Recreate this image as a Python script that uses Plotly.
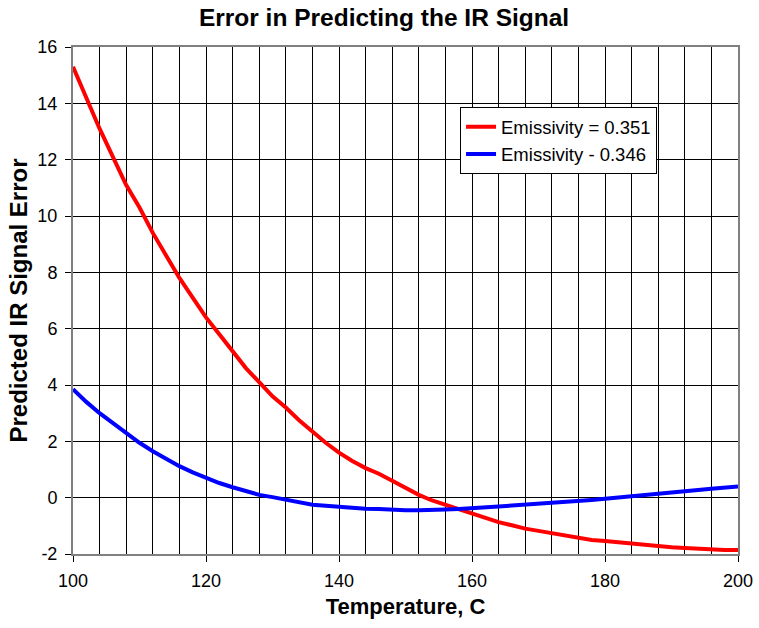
import plotly.graph_objects as go

# Temperature (C)
temperature = [100, 102, 104, 106, 108, 110, 112, 114, 116, 118, 120, 122, 124, 126, 128,
               130, 132, 134, 136, 138, 140, 142, 144, 146, 148, 150, 152, 154, 156, 158,
               160, 162, 164, 166, 168, 170, 172, 174, 176, 178, 180, 182, 184, 186, 188,
               190, 192, 194, 196, 198, 200]

# Predicted IR signal error, emissivity = 0.351
err_351 = [15.3, 14.2, 13.1, 12.1, 11.1, 10.3, 9.4, 8.6, 7.8, 7.1, 6.4, 5.8, 5.2, 4.6, 4.1,
           3.6, 3.2, 2.75, 2.35, 1.95, 1.6, 1.3, 1.05, 0.85, 0.6, 0.35, 0.1, -0.1, -0.25, -0.4,
           -0.57, -0.72, -0.87, -0.98, -1.1, -1.18, -1.26, -1.35, -1.43, -1.5, -1.54, -1.59,
           -1.63, -1.68, -1.72, -1.76, -1.79, -1.82, -1.85, -1.86, -1.86]

# Predicted IR signal error, emissivity = 0.346
err_346 = [3.85, 3.4, 3.0, 2.65, 2.3, 1.95, 1.65, 1.38, 1.12, 0.9, 0.71, 0.52, 0.37, 0.22, 0.1,
           0.02, -0.08, -0.17, -0.25, -0.29, -0.33, -0.36, -0.39, -0.4, -0.43, -0.45, -0.45,
           -0.45, -0.42, -0.4, -0.38, -0.35, -0.31, -0.28, -0.25, -0.22, -0.2, -0.16, -0.12,
           -0.08, -0.04, 0.0, 0.05, 0.1, 0.13, 0.18, 0.23, 0.27, 0.32, 0.36, 0.4]

series_names = ["Emissivity = 0.351", "Emissivity - 0.346"]

# Axis tick values and their labels (plain hyphen for negatives)
x_ticks = [100, 120, 140, 160, 180, 200]
y_ticks = [-2, 0, 2, 4, 6, 8, 10, 12, 14, 16]
y_tick_labels = [str(v) for v in y_ticks]

FONT = "Liberation Sans, Arial, sans-serif"

fig = go.Figure()
fig.add_trace(go.Scatter(x=temperature, y=err_351, mode="lines", name=series_names[0],
                         line=dict(color="#ff0000", width=4)))
fig.add_trace(go.Scatter(x=temperature, y=err_346, mode="lines", name=series_names[1],
                         line=dict(color="#0000ff", width=4)))

fig.update_layout(
    width=759, height=628,
    margin=dict(l=73, r=21, t=47, b=74),
    paper_bgcolor="white", plot_bgcolor="white",
    font=dict(family=FONT, color="black", size=16),
    title=dict(text="<b>Error in Predicting the IR Signal</b>", x=0.506, xanchor="center",
               y=0.972, yanchor="middle", font=dict(size=24.5, family=FONT)),
    legend=dict(x=0.582, y=0.881, xanchor="left", yanchor="top",
                bordercolor="black", borderwidth=1, bgcolor="white",
                font=dict(size=18.5, family=FONT), itemwidth=30,
                tracegroupgap=0),
    showlegend=True,
)

fig.update_xaxes(
    range=[100, 200], tickvals=x_ticks, ticktext=[str(v) for v in x_ticks],
    ticks="outside", ticklen=6, tickcolor="black", automargin=False,
    ticklabelstandoff=3,
    showline=True, linecolor="#808080", linewidth=2, mirror=True,
    showgrid=True, gridcolor="black", gridwidth=1,
    minor=dict(dtick=4, tick0=100, showgrid=True, gridcolor="black", gridwidth=1),
    zeroline=False,
    tickfont=dict(size=18, family=FONT),
    title=dict(text="<b>Temperature, C</b>", font=dict(size=22, family=FONT), standoff=9),
)
fig.update_yaxes(
    range=[-2, 16], tickvals=y_ticks, ticktext=y_tick_labels,
    ticks="outside", ticklen=6, tickcolor="black", automargin=False,
    ticklabelstandoff=4,
    showline=True, linecolor="#808080", linewidth=2, mirror=True,
    showgrid=True, gridcolor="black", gridwidth=1,
    zeroline=False,
    tickfont=dict(size=18, family=FONT),
    title=dict(text="<b>Predicted IR Signal Error</b>", font=dict(size=24, family=FONT), standoff=3),
)

fig.write_html("out.html")
